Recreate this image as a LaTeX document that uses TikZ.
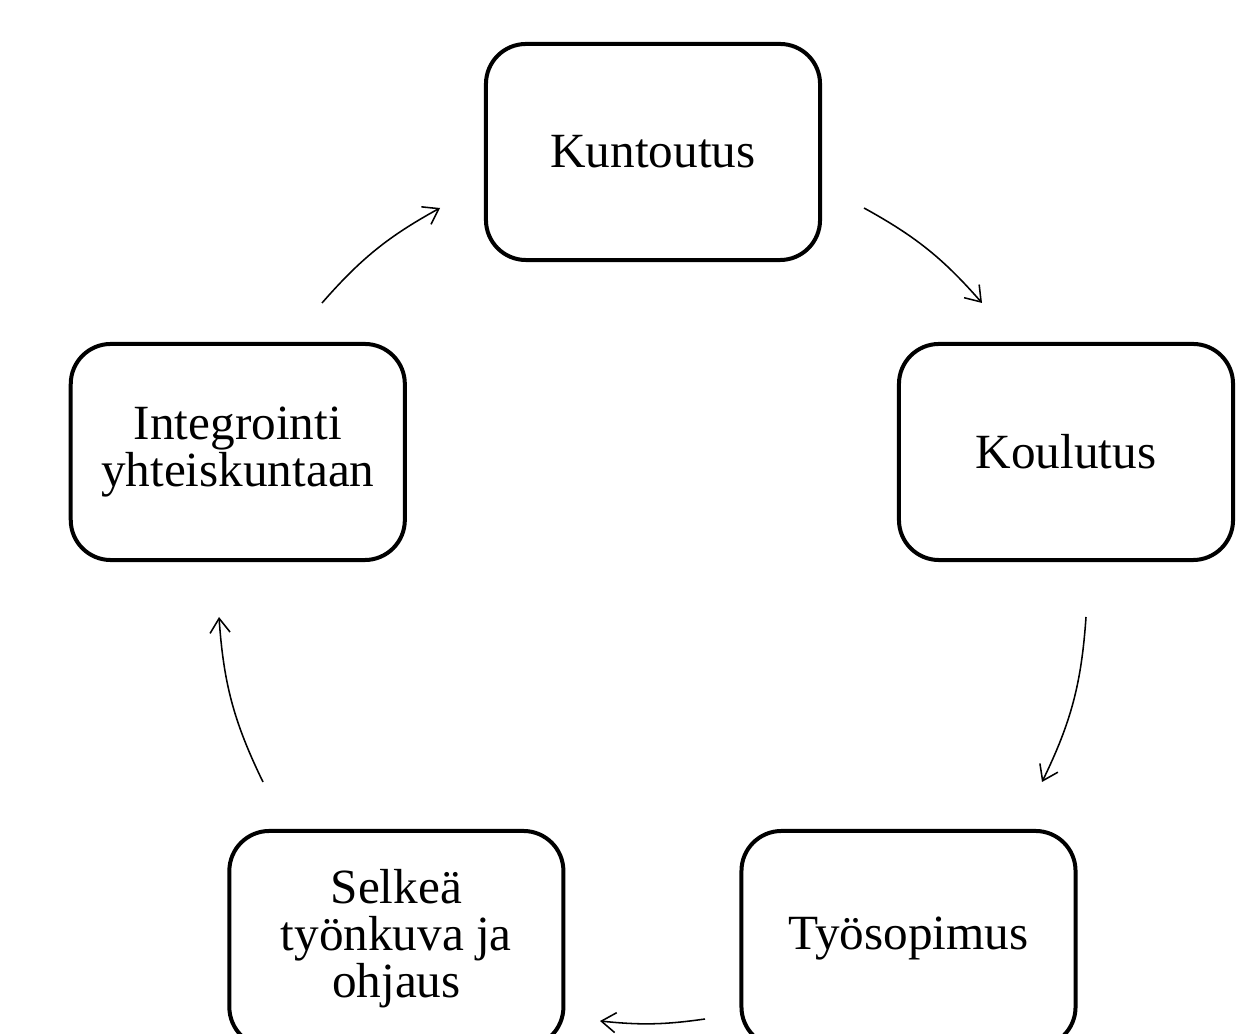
\documentclass[tikz,border=0pt]{standalone}
\usepackage{fontspec}
\setmainfont{Liberation Serif}
\usetikzlibrary{arrows.meta, positioning}

\begin{document}
\begin{tikzpicture}[x=0.025cm,y=0.025cm,>={Straight Barb[length=3.6mm,width=5mm]}]

	\tikzstyle{phase}=[rectangle,rounded corners=1cm,draw=black,line width=0.1cm,
		minimum width=8.35cm,minimum height=5.4cm,align=center,
		font=\fontsize{35}{33.5}\selectfont]
	\tikzstyle{flow}=[->,line width=1.1pt]

	\useasboundingbox (0,0) rectangle (1242,1033);
	\clip (0,0) rectangle (1242,1033);

	\node [phase] (kunt) at (653,881) {Kuntoutus};
	\node [phase] (koul) at (1066,581) {Koulutus};
	\node [phase, left=12.25cm of koul] (integ) {Integrointi\\yhteiskuntaan};
	\node [phase] (tyos) at (908.5,94) {Työsopimus};
	\node [phase, left=4.35cm of tyos] (selk) {Selkeä\\työnkuva ja\\ohjaus};

	% ends of the cycle arrows
	\coordinate (a1s) at (864,825);
	\coordinate (a1e) at (982,730);
	\coordinate (a2s) at (1086,416);
	\coordinate (a2e) at (1042,251);
	\coordinate (a3s) at (705,14);
	\coordinate (a3e) at (600,12);
	\coordinate (a4s) at (263,251);
	\coordinate (a4e) at (219,416);
	\coordinate (a5s) at (322,730);
	\coordinate (a5e) at (440,825);

	\draw [flow] (a1s) to [bend left=10] (a1e);
	\draw [flow] (a2s) to [bend left=11] (a2e);
	\draw [flow] (a3s) to [bend left=7] (a3e);
	\draw [flow] (a4s) to [bend left=11] (a4e);
	\draw [flow] (a5s) to [bend left=10] (a5e);
\end{tikzpicture}
\end{document}
